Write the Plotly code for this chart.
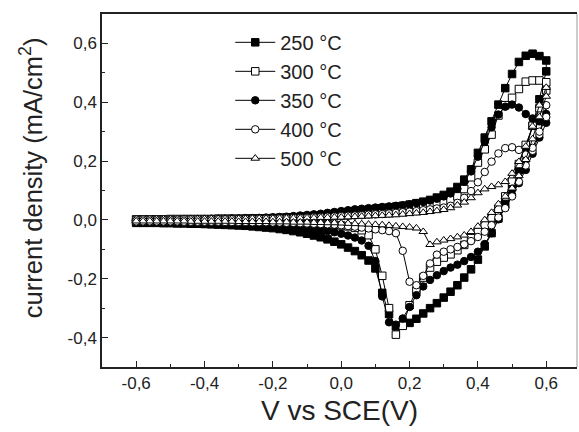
import plotly.graph_objects as go

# Potential (V vs SCE): forward sweep and reverse sweep
V_FWD = [-0.60, -0.58, -0.56, -0.54, -0.52, -0.50, -0.48, -0.46, -0.44, -0.42,
         -0.40, -0.38, -0.36, -0.34, -0.32, -0.30, -0.28, -0.26, -0.24, -0.22,
         -0.20, -0.18, -0.16, -0.14, -0.12, -0.10, -0.08, -0.06, -0.04, -0.02,
         0.00, 0.02, 0.04, 0.06, 0.08, 0.10, 0.12, 0.14, 0.16, 0.18,
         0.20, 0.22, 0.24, 0.26, 0.28, 0.30, 0.32, 0.34, 0.36, 0.38,
         0.40, 0.42, 0.44, 0.46, 0.48, 0.50, 0.52, 0.54, 0.56, 0.58,
         0.60]
V_REV = [0.60, 0.58, 0.56, 0.54, 0.52, 0.50, 0.48, 0.46, 0.44, 0.42,
         0.40, 0.38, 0.36, 0.34, 0.32, 0.30, 0.28, 0.26, 0.24, 0.22,
         0.20, 0.18, 0.16, 0.14, 0.12, 0.10, 0.08, 0.06, 0.04, 0.02,
         0.00, -0.02, -0.04, -0.06, -0.08, -0.10, -0.12, -0.14, -0.16, -0.18,
         -0.20, -0.22, -0.24, -0.26, -0.28, -0.30, -0.32, -0.34, -0.36, -0.38,
         -0.40, -0.42, -0.44, -0.46, -0.48, -0.50, -0.52, -0.54, -0.56, -0.58,
         -0.60]

# Current density (mA/cm2)
I_250_FWD = [0.000, 0.000, 0.001, 0.001, 0.001, 0.001, 0.001, 0.002, 0.002, 0.002,
             0.002, 0.002, 0.003, 0.003, 0.003, 0.003, 0.004, 0.004, 0.005, 0.005,
             0.006, 0.007, 0.008, 0.009, 0.010, 0.012, 0.014, 0.016, 0.018, 0.021,
             0.024, 0.027, 0.030, 0.033, 0.035, 0.037, 0.040, 0.042, 0.045, 0.048,
             0.052, 0.057, 0.062, 0.068, 0.076, 0.085, 0.096, 0.112, 0.137, 0.172,
             0.228, 0.280, 0.335, 0.392, 0.448, 0.496, 0.537, 0.558, 0.565, 0.557,
             0.542]
I_250_REV = [0.505, 0.410, 0.320, 0.240, 0.170, 0.110, 0.055, 0.005, -0.045, -0.090,
             -0.135, -0.168, -0.196, -0.222, -0.244, -0.264, -0.283, -0.300, -0.318, -0.336,
             -0.350, -0.358, -0.362, -0.320, -0.248, -0.165, -0.138, -0.120, -0.106, -0.094,
             -0.083, -0.074, -0.066, -0.059, -0.053, -0.047, -0.042, -0.038, -0.034, -0.031,
             -0.028, -0.026, -0.024, -0.022, -0.020, -0.019, -0.018, -0.017, -0.016, -0.015,
             -0.014, -0.013, -0.013, -0.012, -0.012, -0.011, -0.011, -0.010, -0.010, -0.010,
             -0.010]

I_300_FWD = [0.002, 0.002, 0.002, 0.002, 0.002, 0.003, 0.003, 0.003, 0.003, 0.003,
             0.003, 0.003, 0.004, 0.004, 0.004, 0.004, 0.004, 0.005, 0.005, 0.005,
             0.006, 0.006, 0.007, 0.007, 0.008, 0.009, 0.010, 0.011, 0.012, 0.013,
             0.015, 0.017, 0.019, 0.021, 0.023, 0.025, 0.027, 0.029, 0.031, 0.033,
             0.036, 0.039, 0.042, 0.046, 0.051, 0.058, 0.067, 0.080, 0.105, 0.145,
             0.195, 0.240, 0.290, 0.355, 0.390, 0.415, 0.445, 0.470, 0.474, 0.474,
             0.468]
I_300_REV = [0.440, 0.380, 0.320, 0.255, 0.190, 0.130, 0.080, 0.038, 0.008, -0.018,
             -0.040, -0.062, -0.085, -0.103, -0.117, -0.128, -0.142, -0.162, -0.196, -0.240,
             -0.290, -0.360, -0.390, -0.300, -0.190, -0.100, -0.052, -0.035, -0.027, -0.022,
             -0.019, -0.017, -0.015, -0.014, -0.013, -0.012, -0.011, -0.011, -0.010, -0.010,
             -0.009, -0.009, -0.009, -0.008, -0.008, -0.008, -0.008, -0.007, -0.007, -0.007,
             -0.007, -0.007, -0.006, -0.006, -0.006, -0.006, -0.006, -0.006, -0.006, -0.006,
             -0.006]

I_350_FWD = [0.001, 0.001, 0.001, 0.002, 0.002, 0.002, 0.002, 0.003, 0.003, 0.003,
             0.003, 0.004, 0.004, 0.004, 0.005, 0.005, 0.006, 0.006, 0.007, 0.008,
             0.009, 0.010, 0.011, 0.013, 0.015, 0.017, 0.019, 0.021, 0.024, 0.027,
             0.030, 0.033, 0.036, 0.038, 0.040, 0.042, 0.044, 0.046, 0.048, 0.050,
             0.053, 0.057, 0.061, 0.066, 0.072, 0.080, 0.090, 0.106, 0.130, 0.165,
             0.215, 0.265, 0.315, 0.358, 0.385, 0.392, 0.382, 0.360, 0.345, 0.335,
             0.360]
I_350_REV = [0.330, 0.280, 0.225, 0.170, 0.125, 0.085, 0.042, 0.002, -0.045, -0.082,
             -0.108, -0.126, -0.140, -0.152, -0.162, -0.174, -0.188, -0.204, -0.226, -0.256,
             -0.296, -0.335, -0.356, -0.348, -0.260, -0.140, -0.088, -0.070, -0.060, -0.053,
             -0.047, -0.042, -0.038, -0.034, -0.031, -0.028, -0.026, -0.024, -0.022, -0.020,
             -0.019, -0.018, -0.017, -0.016, -0.015, -0.014, -0.014, -0.013, -0.013, -0.012,
             -0.012, -0.011, -0.011, -0.011, -0.010, -0.010, -0.010, -0.009, -0.009, -0.009,
             -0.009]

I_400_FWD = [0.002, 0.002, 0.002, 0.002, 0.002, 0.002, 0.002, 0.003, 0.003, 0.003,
             0.003, 0.003, 0.003, 0.003, 0.004, 0.004, 0.004, 0.004, 0.005, 0.005,
             0.005, 0.006, 0.006, 0.007, 0.007, 0.008, 0.009, 0.010, 0.011, 0.012,
             0.013, 0.014, 0.015, 0.016, 0.018, 0.019, 0.020, 0.022, 0.024, 0.026,
             0.028, 0.030, 0.033, 0.036, 0.039, 0.042, 0.048, 0.058, 0.075, 0.098,
             0.128, 0.163, 0.198, 0.226, 0.244, 0.247, 0.238, 0.222, 0.235, 0.290,
             0.390]
I_400_REV = [0.350, 0.300, 0.245, 0.185, 0.130, 0.080, 0.040, 0.008, -0.018, -0.040,
             -0.058, -0.072, -0.083, -0.092, -0.100, -0.108, -0.118, -0.148, -0.190, -0.222,
             -0.210, -0.105, -0.045, -0.038, -0.035, -0.032, -0.029, -0.026, -0.023, -0.021,
             -0.018, -0.016, -0.015, -0.014, -0.013, -0.012, -0.011, -0.010, -0.010, -0.009,
             -0.009, -0.008, -0.008, -0.008, -0.007, -0.007, -0.007, -0.007, -0.006, -0.006,
             -0.006, -0.006, -0.006, -0.006, -0.005, -0.005, -0.005, -0.005, -0.005, -0.005,
             -0.005]

I_500_FWD = [0.003, 0.003, 0.003, 0.003, 0.003, 0.003, 0.003, 0.003, 0.003, 0.003,
             0.004, 0.004, 0.004, 0.004, 0.004, 0.004, 0.004, 0.005, 0.005, 0.005,
             0.005, 0.005, 0.006, 0.006, 0.006, 0.007, 0.007, 0.008, 0.008, 0.009,
             0.009, 0.010, 0.011, 0.012, 0.013, 0.014, 0.015, 0.016, 0.017, 0.019,
             0.021, 0.023, 0.025, 0.028, 0.031, 0.035, 0.041, 0.050, 0.060, 0.075,
             0.092, 0.105, 0.113, 0.119, 0.130, 0.158, 0.198, 0.250, 0.318, 0.390,
             0.450]
I_500_REV = [0.420, 0.350, 0.275, 0.205, 0.150, 0.108, 0.080, 0.054, 0.025, 0.000,
             -0.022, -0.040, -0.052, -0.058, -0.064, -0.069, -0.075, -0.084, -0.040, -0.028,
             -0.025, -0.023, -0.021, -0.019, -0.017, -0.016, -0.015, -0.014, -0.013, -0.012,
             -0.011, -0.010, -0.010, -0.009, -0.009, -0.008, -0.008, -0.008, -0.007, -0.007,
             -0.007, -0.006, -0.006, -0.006, -0.006, -0.006, -0.005, -0.005, -0.005, -0.005,
             -0.005, -0.005, -0.005, -0.004, -0.004, -0.004, -0.004, -0.004, -0.004, -0.004,
             -0.004]

SERIES = ["250 °C", "300 °C", "350 °C", "400 °C", "500 °C"]
X_TICKS = [-0.6, -0.4, -0.2, 0.0, 0.2, 0.4, 0.6]
X_TICKTEXT = ["-0,6", "-0,4", "-0,2", "0,0", "0,2", "0,4", "0,6"]
Y_TICKS = [-0.4, -0.2, 0.0, 0.2, 0.4, 0.6]
Y_TICKTEXT = ["-0,4", "-0,2", "0,0", "0,2", "0,4", "0,6"]

curves = [
    (I_250_FWD, I_250_REV, "square", "black"),
    (I_300_FWD, I_300_REV, "square", "white"),
    (I_350_FWD, I_350_REV, "circle", "black"),
    (I_400_FWD, I_400_REV, "circle", "white"),
    (I_500_FWD, I_500_REV, "triangle-up", "white"),
]

FONT = "Liberation Sans, Arial, sans-serif"
fig = go.Figure()
for name, (fwd, rev, sym, fill) in zip(SERIES, curves):
    fig.add_trace(go.Scatter(
        x=V_FWD + V_REV, y=fwd + rev, name=name, mode="lines+markers",
        line=dict(color="black", width=1),
        marker=dict(symbol=sym, size=7.5, color=fill,
                    line=dict(color="black", width=1)),
    ))

axis_common = dict(
    showgrid=False, zeroline=False, showline=True, linecolor="#222", linewidth=1.5,
    ticks="inside", ticklen=6, tickwidth=1.2, tickcolor="#222",
    tickfont=dict(family=FONT, size=17, color="#222"),
    minor=dict(ticks="inside", ticklen=3, tickwidth=1, tickcolor="#222"),
)

fig.update_layout(
    width=579, height=432,
    margin=dict(l=102, r=2, t=14, b=65),
    paper_bgcolor="white", plot_bgcolor="white",
    font=dict(family=FONT, color="#222"),
    showlegend=True,
    legend=dict(x=0.27, y=0.975, xanchor="left", yanchor="top",
                bgcolor="rgba(0,0,0,0)", borderwidth=0,
                font=dict(family=FONT, size=20, color="#222"),
                itemwidth=40, tracegroupgap=0),
    xaxis=dict(range=[-0.7, 0.69], tickvals=X_TICKS, ticktext=X_TICKTEXT,
               mirror=True,
               title=dict(text="V vs SCE(V)", font=dict(family=FONT, size=28, color="#222"),
                          standoff=8),
               **axis_common),
    yaxis=dict(range=[-0.5, 0.7], tickvals=Y_TICKS, ticktext=Y_TICKTEXT,
               **axis_common),
)
fig.update_xaxes(minor_dtick=0.1, minor_tick0=0)
fig.update_yaxes(minor_dtick=0.1, minor_tick0=0)
fig.add_shape(type="line", xref="paper", yref="paper", x0=1, x1=1, y0=0, y1=1,
              line=dict(color="#999", width=1))
fig.add_annotation(text="current density (mA/cm<sup>2</sup>)", textangle=-90,
                   xref="paper", yref="paper", x=(31 - 102) / 475, y=0.535,
                   xanchor="center", yanchor="middle", showarrow=False,
                   font=dict(family=FONT, size=25.5, color="#222"))

fig.write_html("out.html")
